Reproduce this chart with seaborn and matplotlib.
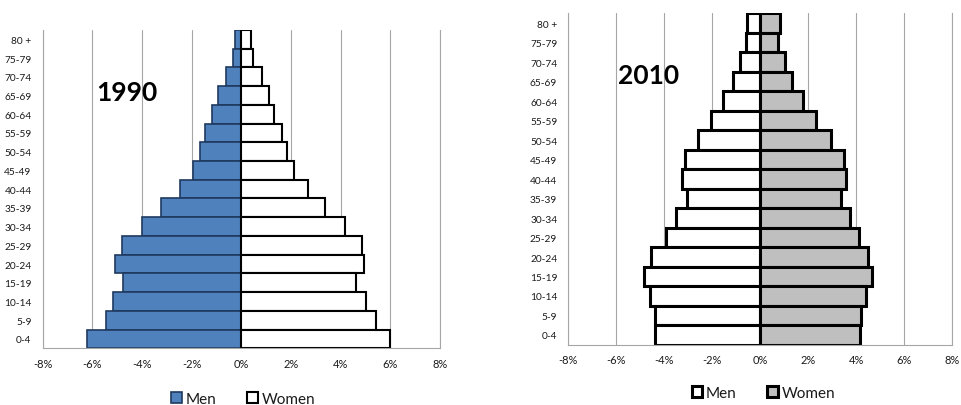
import matplotlib
matplotlib.use("Agg")
import matplotlib.pyplot as plt
from matplotlib.patches import Patch
import seaborn as sns
import pandas as pd

age_groups = ["80 +", "75-79", "70-74", "65-69", "60-64", "55-59", "50-54", "45-49",
              "40-44", "35-39", "30-34", "25-29", "20-24", "15-19", "10-14", "5-9", "0-4"]

men_1990 = [0.25, 0.34, 0.63, 0.93, 1.19, 1.45, 1.67, 1.94, 2.48, 3.23, 3.99, 4.80,
            5.07, 4.76, 5.16, 5.46, 6.20]
women_1990 = [0.40, 0.48, 0.82, 1.11, 1.33, 1.63, 1.85, 2.12, 2.70, 3.37, 4.18, 4.86,
              4.96, 4.62, 5.04, 5.44, 5.99]

men_2010 = [0.57, 0.60, 0.83, 1.12, 1.56, 2.06, 2.60, 3.12, 3.25, 3.05, 3.51, 3.93,
            4.57, 4.85, 4.60, 4.40, 4.37]
women_2010 = [0.80, 0.75, 1.04, 1.32, 1.78, 2.33, 2.94, 3.50, 3.58, 3.36, 3.74, 4.10,
              4.49, 4.67, 4.40, 4.18, 4.15]

x_ticks = [-8, -6, -4, -2, 0, 2, 4, 6, 8]
x_tick_labels = ["-8%", "-6%", "-4%", "-2%", "0%", "2%", "4%", "6%", "8%"]

sns.set_style("white")
plt.rcParams["font.family"] = ["Lato", "DejaVu Sans"]

fig = plt.figure(figsize=(9.61, 4.06), dpi=100)
ax1 = fig.add_axes([0.0444, 0.1397, 0.4134, 0.784])
ax2 = fig.add_axes([0.5914, 0.1485, 0.3996, 0.816])

grid_col = "#A6A6A6"
txt_col = "#1a1a1a"


def draw(ax, men, women, men_fc, men_ec, women_fc, women_ec, lw_m, lw_w, title, tx, ty):
    df_m = pd.DataFrame({"age": age_groups, "value": [-v for v in men]})
    df_w = pd.DataFrame({"age": age_groups, "value": women})
    sns.barplot(data=df_m, x="value", y="age", order=age_groups, orient="h", width=1.0,
                color=men_fc, saturation=1, edgecolor=men_ec, linewidth=lw_m, ax=ax)
    sns.barplot(data=df_w, x="value", y="age", order=age_groups, orient="h", width=1.0,
                color=women_fc, saturation=1, edgecolor=women_ec, linewidth=lw_w, ax=ax)
    ax.set_xlim(-8, 8)
    ax.set_ylim(len(age_groups) - 0.5, -0.5)
    ax.set_xticks(x_ticks)
    ax.set_xticklabels(x_tick_labels, fontsize=8, color=txt_col)
    ax.tick_params(axis="x", length=0, pad=7)
    ax.tick_params(axis="y", length=0, pad=8, labelsize=7.3, labelcolor=txt_col)
    ax.set_xlabel("")
    ax.set_ylabel("")
    ax.set_axisbelow(True)
    ax.grid(axis="x", color=grid_col, linewidth=0.8)
    ax.grid(axis="y", visible=False)
    ax.spines["top"].set_visible(False)
    for s in ["left", "bottom", "right"]:
        ax.spines[s].set_visible(True)
        ax.spines[s].set_color(grid_col)
        ax.spines[s].set_linewidth(0.8)
    fig.text(tx, ty, title, fontsize=19, fontweight="bold", ha="center", va="center",
             color="black", family=["Lato", "DejaVu Sans"])


draw(ax1, men_1990, women_1990, "#4F81BD", "#1F3A5F", "white", "black", 1.2, 1.5,
     "1990", 126.5 / 961, 1 - 93 / 406)
draw(ax2, men_2010, women_2010, "white", "black", "#BFBFBF", "black", 2.2, 2.2,
     "2010", 648.7 / 961, 1 - 76 / 406)

leg_kw = dict(ncol=2, frameon=False, fontsize=11, handlelength=0.7, handleheight=0.7,
              handletextpad=0.25, columnspacing=2.0, loc="center", labelcolor=txt_col)
h1 = [Patch(facecolor="#4F81BD", edgecolor="#1F3A5F", linewidth=1.2, label="Men"),
      Patch(facecolor="white", edgecolor="black", linewidth=1.5, label="Women")]
fig.legend(handles=h1, bbox_to_anchor=(243 / 961, 1 - 400 / 406), **leg_kw)
h2 = [Patch(facecolor="white", edgecolor="black", linewidth=2.2, label="Men"),
      Patch(facecolor="#BFBFBF", edgecolor="black", linewidth=2.2, label="Women")]
fig.legend(handles=h2, bbox_to_anchor=(763.5 / 961, 1 - 394 / 406), **leg_kw)

fig.savefig("out.png", dpi=100)
